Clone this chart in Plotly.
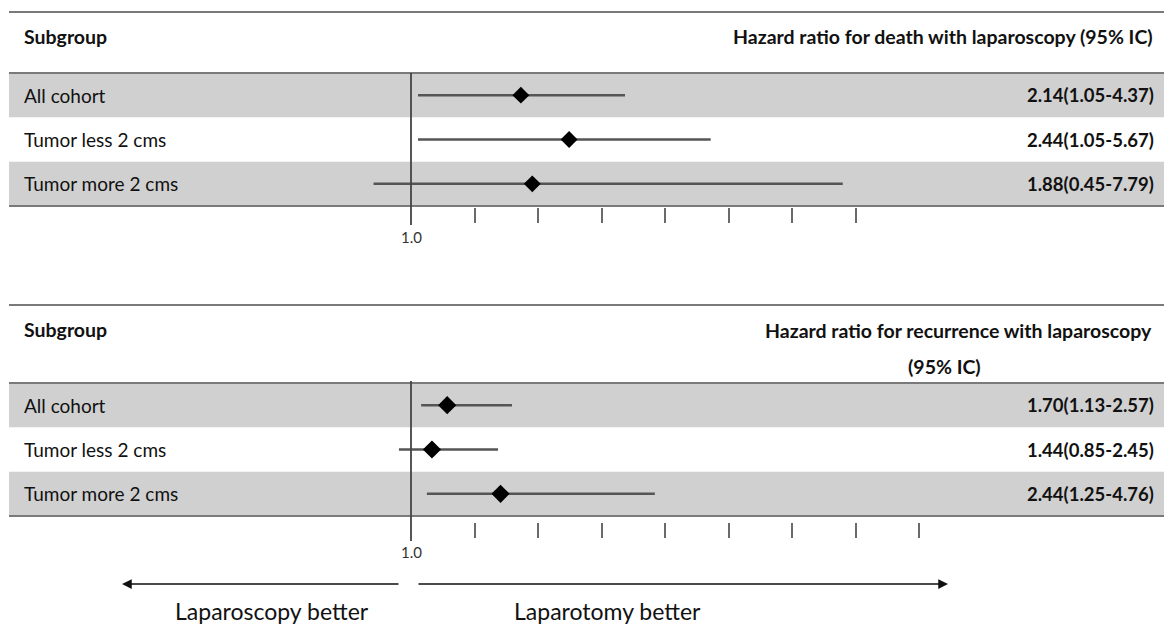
import plotly.graph_objects as go

# ---------------- data ----------------
subgroups = ["All cohort", "Tumor less 2 cms", "Tumor more 2 cms"]
rows = [0, 1, 2]

# Panel 1: hazard ratio for death (positions as drawn on the axis)
death_est = [2.73, 3.49, 2.91]
death_lo = [1.11, 1.11, 0.41]
death_hi = [4.37, 5.72, 7.80]
death_text = ["2.14(1.05-4.37)", "2.44(1.05-5.67)", "1.88(0.45-7.79)"]
death_ticks = [2, 3, 4, 5, 6, 7, 8]

# Panel 2: hazard ratio for recurrence
rec_est = [1.57, 1.33, 2.41]
rec_lo = [1.16, 0.81, 1.25]
rec_hi = [2.59, 2.37, 4.84]
rec_text = ["1.70(1.13-2.57)", "1.44(0.85-2.45)", "2.44(1.25-4.76)"]
rec_ticks = [2, 3, 4, 5, 6, 7, 8, 9]

ref_value = 1.0
ref_label = "1.0"

header_left = "Subgroup"
header_death = "Hazard ratio for death with laparoscopy (95% IC)"
header_rec_1 = "Hazard ratio for recurrence with laparoscopy"
header_rec_2 = "(95% IC)"
left_label = "Laparoscopy better"
right_label = "Laparotomy better"

# ---------------- layout helpers ----------------
W, H = 1164, 624
FONT = "Lato"
TXT = "#111111"
LINEC = "#7a7a7a"
BAND = "#d0d0d0"


def py(p):
    return 1 - p / H


def px(p):
    return p / W


x0 = 1 - 411 / 63.5
x1 = x0 + W / 63.5

fig = go.Figure()


def add_panel(est, lo, hi, xa, ya, msize):
    xs, ys = [], []
    for r, a, b in zip(rows, lo, hi):
        xs += [a, b, None]
        ys += [r, r, None]
    fig.add_trace(go.Scatter(x=xs, y=ys, mode="lines", xaxis=xa, yaxis=ya,
                             line=dict(color="#555555", width=2.5),
                             hoverinfo="skip", showlegend=False))
    fig.add_trace(go.Scatter(x=est, y=rows, mode="markers", xaxis=xa, yaxis=ya,
                             marker=dict(symbol="diamond", size=msize, color="black"),
                             showlegend=False))


add_panel(death_est, death_lo, death_hi, "x", "y", 13)
add_panel(rec_est, rec_lo, rec_hi, "x2", "y2", 14)

axis_common = dict(range=[x0, x1], domain=[0, 1], showgrid=False, zeroline=False,
                   showline=False, showticklabels=False, ticks="outside",
                   ticklen=15, tickwidth=2, tickcolor="#6a6a6a", anchor="free")
fig.update_layout(
    xaxis=dict(**axis_common, tickvals=death_ticks, position=py(207)),
    xaxis2=dict(**axis_common, tickvals=rec_ticks, position=py(522)),
    yaxis=dict(domain=[py(206), py(73)], range=[2.5, -0.5], visible=False),
    yaxis2=dict(domain=[py(516), py(383)], range=[2.5, -0.5], visible=False,
                anchor="x2"),
)

shapes = []
# grey bands
for ya in ["y", "y2"]:
    for r in [0, 2]:
        shapes.append(dict(type="rect", xref="paper", yref=ya, x0=px(9), x1=1,
                           y0=r - 0.5, y1=r + 0.5, fillcolor=BAND,
                           line=dict(width=0), layer="below"))
# horizontal rules
for yy in [12, 73, 206, 305, 383, 516]:
    shapes.append(dict(type="line", xref="paper", yref="paper", x0=px(9), x1=1,
                       y0=py(yy), y1=py(yy), line=dict(color=LINEC, width=2)))
# reference lines
shapes.append(dict(type="line", xref="x", yref="paper", x0=ref_value, x1=ref_value,
                   y0=py(73), y1=py(225), line=dict(color="#444444", width=1.8)))
shapes.append(dict(type="line", xref="x2", yref="paper", x0=ref_value, x1=ref_value,
                   y0=py(381), y1=py(541), line=dict(color="#444444", width=1.8)))

ann = []
bold = dict(family=FONT, size=19.5, color=TXT)
valfont = dict(family=FONT, size=18.5, color=TXT)
# headers
for yy in [36, 329]:
    ann.append(dict(text="<b>%s</b>" % header_left, xref="paper", yref="paper",
                    x=px(22), y=py(yy), xanchor="left", yanchor="middle",
                    showarrow=False, font=bold))
ann.append(dict(text="<b>%s</b>" % header_death, xref="paper", yref="paper",
                x=px(1155), y=py(36), xanchor="right", yanchor="middle",
                showarrow=False, font=bold))
ann.append(dict(text="<b>%s</b>" % header_rec_1, xref="paper", yref="paper",
                x=px(1154), y=py(330), xanchor="right", yanchor="middle",
                showarrow=False, font=bold))
ann.append(dict(text="<b>%s</b>" % header_rec_2, xref="paper", yref="paper",
                x=px(944), y=py(366), xanchor="center", yanchor="middle",
                showarrow=False, font=bold))
# row labels and values
for ya, texts in [("y", death_text), ("y2", rec_text)]:
    for r, name, t in zip(rows, subgroups, texts):
        ann.append(dict(text=name, xref="paper", yref=ya, x=px(22), y=r,
                        xanchor="left", yanchor="middle", showarrow=False,
                        font=dict(family=FONT, size=19, color=TXT)))
        ann.append(dict(text="<b>%s</b>" % t, xref="paper", yref=ya, x=px(1156), y=r,
                        xanchor="right", yanchor="middle", showarrow=False,
                        font=valfont))
# 1.0 labels
ann.append(dict(text=ref_label, xref="x", yref="paper", x=ref_value, y=py(237),
                xanchor="center", yanchor="middle", showarrow=False,
                font=dict(family=FONT, size=15, color="#333333")))
ann.append(dict(text=ref_label, xref="x2", yref="paper", x=ref_value, y=py(552),
                xanchor="center", yanchor="middle", showarrow=False,
                font=dict(family=FONT, size=15, color="#333333")))
# arrows
ann.append(dict(text="", xref="paper", yref="paper", x=px(122), y=py(584),
                ax=278, ay=0, showarrow=True, arrowhead=2, arrowsize=1.3,
                arrowwidth=1.5, arrowcolor="#111111", standoff=0))
ann.append(dict(text="", xref="paper", yref="paper", x=px(948), y=py(584),
                ax=-531, ay=0, showarrow=True, arrowhead=2, arrowsize=1.3,
                arrowwidth=1.5, arrowcolor="#111111", standoff=0))
ann.append(dict(text=left_label, xref="paper", yref="paper", x=px(272), y=py(611),
                xanchor="center", yanchor="middle", showarrow=False,
                font=dict(family=FONT, size=23, color=TXT)))
ann.append(dict(text=right_label, xref="paper", yref="paper", x=px(607), y=py(611),
                xanchor="center", yanchor="middle", showarrow=False,
                font=dict(family=FONT, size=23, color=TXT)))

fig.update_layout(width=W, height=H, margin=dict(l=0, r=0, t=0, b=0),
                  paper_bgcolor="white", plot_bgcolor="rgba(0,0,0,0)",
                  shapes=shapes, annotations=ann, showlegend=False,
                  font=dict(family=FONT))

fig.write_html("out.html")
